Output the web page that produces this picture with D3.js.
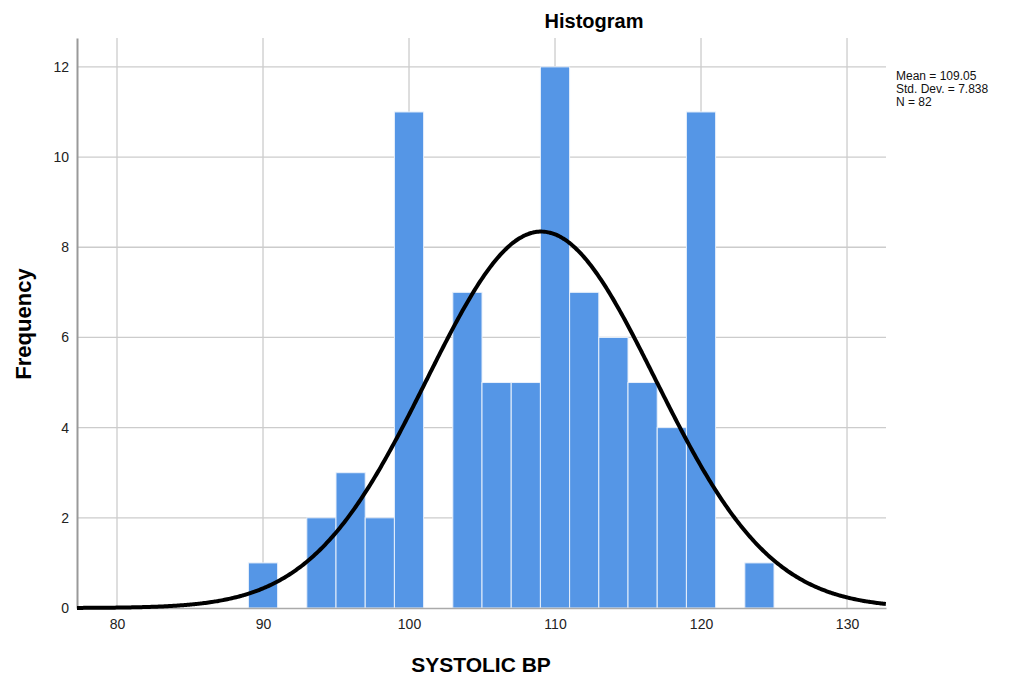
<!DOCTYPE html>
<html>
<head>
<meta charset="utf-8">
<script src="https://cdn.jsdelivr.net/npm/d3@7"></script>
<style>
  body { margin: 0; background: #fff; }
  text { font-family: "Liberation Sans", Arial, sans-serif; }
</style>
</head>
<body>
<div id="chart"></div>
<script>
// bins (lower edge, width 2) and counts
const binStarts = [89, 93, 95, 97, 99, 103, 105, 107, 109, 111, 113, 115, 117, 119, 123];
const binCounts = [1, 2, 3, 2, 11, 7, 5, 5, 12, 7, 6, 5, 4, 11, 1];
const binWidth = 2;
const xTicks = [80, 90, 100, 110, 120, 130];
const yTicks = [0, 2, 4, 6, 8, 10, 12];
const stats = { mean: 109.05, sd: 7.838, n: 82 };

const width = 1017, height = 679;
const margin = { top: 38, right: 131, bottom: 71, left: 77 };
const innerW = width - margin.left - margin.right;
const innerH = height - margin.top - margin.bottom;

const svg = d3.select("#chart").append("svg")
  .attr("width", width)
  .attr("height", height);

const g = svg.append("g")
  .attr("transform", `translate(${margin.left},${margin.top})`);

const x = d3.scaleLinear().domain([77.26, 132.67]).range([0, innerW]);
const y = d3.scaleLinear().domain([0, 12.64]).range([innerH, 0]);

// grid
g.append("g").selectAll("line")
  .data(xTicks)
  .join("line")
  .attr("x1", d => x(d)).attr("x2", d => x(d))
  .attr("y1", 0).attr("y2", innerH)
  .attr("stroke", "#cccccc").attr("stroke-width", 1.3);

g.append("g").selectAll("line")
  .data(yTicks.filter(d => d > 0))
  .join("line")
  .attr("x1", 0).attr("x2", innerW)
  .attr("y1", d => y(d)).attr("y2", d => y(d))
  .attr("stroke", "#cccccc").attr("stroke-width", 1.3);

// bars
const bins = binStarts.map((s, i) => ({ x0: s, count: binCounts[i] }));
g.append("g").selectAll("rect")
  .data(bins)
  .join("rect")
  .attr("x", d => x(d.x0))
  .attr("y", d => y(d.count))
  .attr("width", d => x(d.x0 + binWidth) - x(d.x0))
  .attr("height", d => y(0) - y(d.count))
  .attr("fill", "#5596e6")
  .attr("stroke", "#e8f0fb")
  .attr("stroke-width", 1);

// axes
const xAxis = g.append("g")
  .attr("transform", `translate(0,${innerH})`)
  .call(d3.axisBottom(x).tickValues(xTicks).tickSize(0).tickPadding(11));
xAxis.select(".domain").attr("stroke", "#aaaaaa").attr("stroke-width", 1.3);
xAxis.selectAll("text").attr("font-size", 14).attr("fill", "#222")
  .style("font-family", "Liberation Sans, Arial, sans-serif");

const yAxis = g.append("g")
  .call(d3.axisLeft(y).tickValues(yTicks).tickSize(0).tickPadding(8));
yAxis.select(".domain").attr("stroke", "#999999").attr("stroke-width", 2);
yAxis.selectAll("text").attr("font-size", 14).attr("fill", "#222")
  .style("font-family", "Liberation Sans, Arial, sans-serif");

// normal curve from the reported mean / sd
const scaleN = stats.n * binWidth;
const curvePts = d3.range(x.domain()[0], x.domain()[1] + 0.01, 0.1).map(v => ({
  v: v,
  f: scaleN * Math.exp(-0.5 * Math.pow((v - stats.mean) / stats.sd, 2)) / (stats.sd * Math.sqrt(2 * Math.PI))
}));
g.append("path")
  .datum(curvePts)
  .attr("fill", "none")
  .attr("stroke", "#000")
  .attr("stroke-width", 4)
  .attr("d", d3.line().x(d => x(d.v)).y(d => y(d.f)).curve(d3.curveBasis));

// titles
svg.append("text")
  .attr("x", 594)
  .attr("y", 28)
  .attr("text-anchor", "middle")
  .attr("font-size", 20)
  .attr("font-weight", "bold")
  .text("Histogram");

svg.append("text")
  .attr("x", 481)
  .attr("y", 672)
  .attr("text-anchor", "middle")
  .attr("font-size", 21)
  .attr("font-weight", "bold")
  .text("SYSTOLIC BP");

svg.append("text")
  .attr("transform", `translate(31,${margin.top + innerH / 2 + 1}) rotate(-90)`)
  .attr("text-anchor", "middle")
  .attr("font-size", 22)
  .attr("font-weight", "bold")
  .text("Frequency");

// stats legend
const statLines = [
  `Mean = ${stats.mean.toFixed(2)}`,
  `Std. Dev. = ${stats.sd.toFixed(3)}`,
  `N = ${stats.n}`
];
svg.append("g").selectAll("text")
  .data(statLines)
  .join("text")
  .attr("x", 896)
  .attr("y", (d, i) => 80 + i * 13)
  .attr("font-size", 12)
  .attr("fill", "#111")
  .text(d => d);
</script>
</body>
</html>
